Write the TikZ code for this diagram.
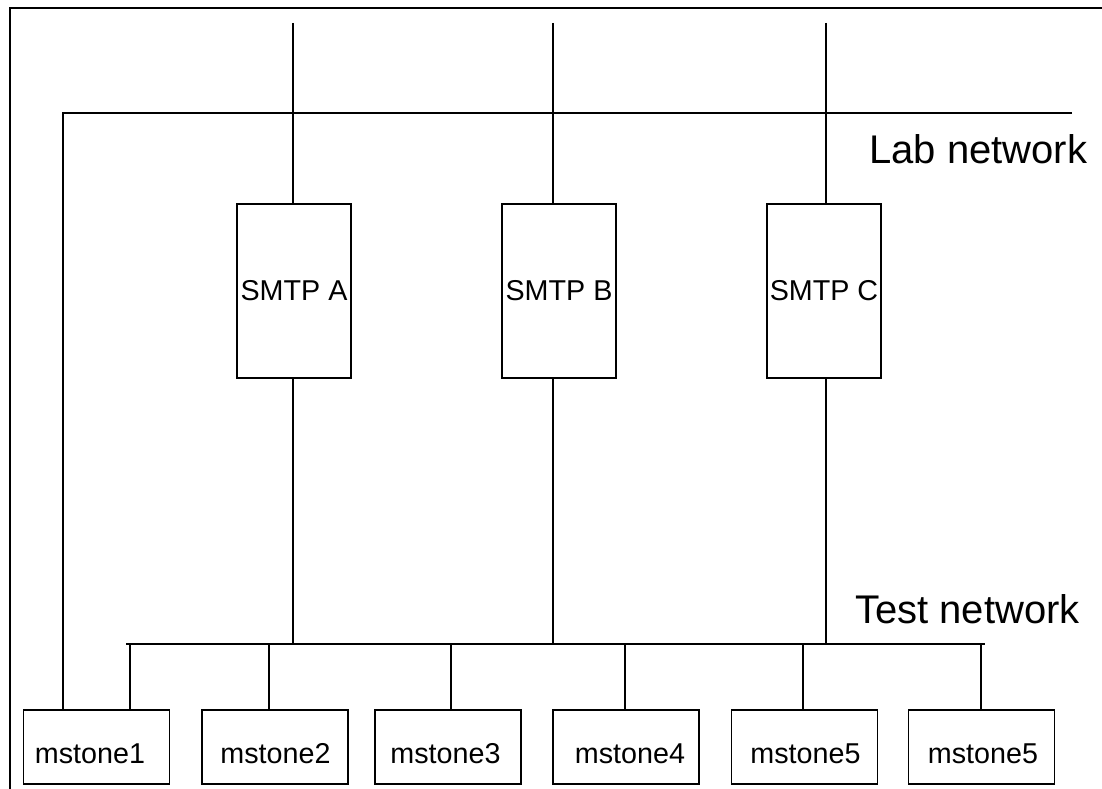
\documentclass[tikz,border=0pt]{standalone}
\usepackage{fontspec}
\setmainfont{Liberation Sans}
\begin{document}
\begin{tikzpicture}[x=1pt,y=-1pt,
  ln/.style={line width=1.1pt,black},
  srv/.style={draw,ln,rectangle,minimum width=114pt,minimum height=174pt,inner sep=0pt,font=\fontsize{28.7}{30}\selectfont},
  cli/.style={draw,ln,rectangle,minimum width=146pt,minimum height=74pt,inner sep=0pt,text height=32pt,text depth=0pt,font=\fontsize{28.7}{30}\selectfont},
  netlabel/.style={anchor=base west,inner sep=0pt,font=\fontsize{40}{42}\selectfont}]
\useasboundingbox (0,0) rectangle (1102,789);
% frame (top and left edges)
\coordinate (fc) at (10,8);
\coordinate (ftr) at (1102,8);
\coordinate (fbl) at (10,789);
\draw[ln] (ftr) -- (fc) -- (fbl);
% servers
\node[srv] (A) at (294,291) {SMTP A};
\node[srv] (B) at (559,291) {SMTP B};
\node[srv] (C) at (824,291) {SMTP C};
% clients
\node[cli] (m1) at (96.5,747) {mstone1\hspace*{13pt}};
\node[cli] (m2) at (275,747) {\hspace*{1pt}mstone2};
\node[cli] (m3) at (448,747) {mstone3\hspace*{5pt}};
\node[cli] (m4) at (626,747) {\hspace*{8pt}mstone4};
\node[cli] (m5) at (804.5,747) {\hspace*{2pt}mstone5};
\node[cli] (m6) at (981.5,747) {\hspace*{3pt}mstone5};
% labels
\node[netlabel] (lab) at (869,163) {Lab network};
\node[netlabel] (test) at (855,623) {Test network};
% lab network bus
\coordinate (labL) at (63,113);
\coordinate (labR) at (1072,113);
\draw[ln] (labR) -- (labL) -- (labL |- m1.north);
% uplinks
\coordinate (ta) at (293,23);
\coordinate (tb) at (553,23);
\coordinate (tc) at (826,23);
\draw[ln] (ta) -- (ta |- A.north);
\draw[ln] (tb) -- (tb |- B.north);
\draw[ln] (tc) -- (tc |- C.north);
% test network bus
\coordinate (testL) at (126,644);
\coordinate (testR) at (985,644);
\draw[ln] (testL) -- (testR);
\draw[ln] (ta |- A.south) -- (ta |- testL);
\draw[ln] (tb |- B.south) -- (tb |- testL);
\draw[ln] (tc |- C.south) -- (tc |- testL);
% drops
\coordinate (d1) at (130,644);
\coordinate (d2) at (269,644);
\coordinate (d3) at (451,644);
\coordinate (d4) at (625,644);
\coordinate (d5) at (803,644);
\coordinate (d6) at (981,644);
\draw[ln] (d1) -- (d1 |- m1.north);
\draw[ln] (d2) -- (d2 |- m2.north);
\draw[ln] (d3) -- (d3 |- m3.north);
\draw[ln] (d4) -- (d4 |- m4.north);
\draw[ln] (d5) -- (d5 |- m5.north);
\draw[ln] (d6) -- (d6 |- m6.north);
\end{tikzpicture}
\end{document}
